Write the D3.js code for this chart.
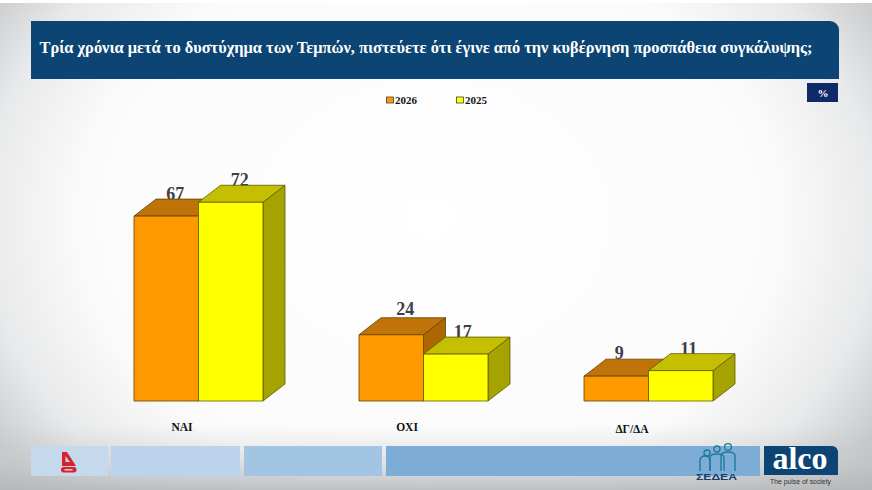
<!DOCTYPE html>
<html><head><meta charset="utf-8">
<script src="https://cdn.jsdelivr.net/npm/d3@7"></script>
<style>html,body{margin:0;padding:0;background:#fff}svg{display:block}text{font-family:"Liberation Serif",serif}</style>
</head><body><svg id="c" width="872" height="490"></svg>
<script>
const categories = ["ΝΑΙ", "ΟΧΙ", "ΔΓ/ΔΑ"];
const seriesNames = ["2026", "2025"];
const values2026 = [67, 24, 9];
const values2025 = [72, 17, 11];
const titleText = "Τρία χρόνια μετά το δυστύχημα των Τεμπών, πιστεύετε ότι έγινε από την κυβέρνηση προσπάθεια συγκάλυψης;";
const unitText = "%";

const svg = d3.select("#c");
const defs = svg.append("defs");
const bg = defs.append("radialGradient").attr("id","bg").attr("gradientUnits","userSpaceOnUse")
  .attr("cx",430).attr("cy",215).attr("r",560).attr("gradientTransform","translate(0,50) scale(1,0.78)");
[[0,"#ffffff"],[0.62,"#fbfbfb"],[0.8,"#e8e9ea"],[1,"#b8babd"]].forEach(s=>bg.append("stop").attr("offset",s[0]).attr("stop-color",s[1]));
svg.append("rect").attr("width",872).attr("height",490).attr("fill","url(#bg)");
const bottom = defs.append("linearGradient").attr("id","bot").attr("x1",0).attr("y1",0).attr("x2",0).attr("y2",1);
[[0,"#c4c6c8",0],[0.55,"#c4c6c8",.45],[1,"#b4b6b8",.85]].forEach(s=>bottom.append("stop").attr("offset",s[0]).attr("stop-color",s[1]).attr("stop-opacity",s[2]));
svg.append("rect").attr("y",425).attr("width",872).attr("height",65).attr("fill","url(#bot)");
svg.append("rect").attr("width",872).attr("height",3).attr("fill","#fff");

// title banner
svg.append("path").attr("d","M31 21H830a9 9 0 0 1 9 9V79H31Z").attr("fill","#0c4473");
svg.append("text").attr("x",39.5).attr("y",53).attr("fill","#fff").attr("font-size",16.5).attr("font-weight",700)
  .attr("textLength",773).attr("lengthAdjust","spacingAndGlyphs").text(titleText);
svg.append("rect").attr("x",807).attr("y",83).attr("width",31).attr("height",19).attr("fill","#0e2a68");
svg.append("text").attr("x",823).attr("y",97).attr("text-anchor","middle").attr("fill","#fff").attr("font-size",11).attr("font-weight",700).text(unitText);

// scales
const y = d3.scaleLinear().domain([0,100]).range([401,125]);
const groupX = d3.scalePoint().domain(categories).range([134,584]);
const x1 = d3.scaleBand().domain(seriesNames).range([0,129]);
const palette = {
  "2026":{front:"#ff9900",top:"#c07308",side:"#ad6700",stroke:"#5f4300"},
  "2025":{front:"#ffff00",top:"#c4bf00",side:"#a5a300",stroke:"#5f5a00"}
};
const dx=22, dy=17;
const labelShiftX = [9,9,14,7,3,8];
const labelShiftY = [1,1,-3,1,0,1];
const rows = categories.flatMap((c,i)=>[
  {c,s:"2026",v:values2026[i]},{c,s:"2025",v:values2025[i]}
]);
// value labels sit behind the bars, whose top faces clip them slightly
rows.forEach((d,i)=>{
  svg.append("text").attr("x",groupX(d.c)+x1(d.s)+x1.bandwidth()/2+labelShiftX[i]).attr("y",y(d.v)-dy+labelShiftY[i])
    .attr("text-anchor","middle").attr("font-size",18).attr("font-weight",700).attr("fill","#3f3f46").text(d.v);
});
const marks = svg.append("g");
rows.forEach(d=>{
  const L=groupX(d.c)+x1(d.s), R=L+x1.bandwidth(), T=y(d.v), B=y(0), p=palette[d.s];
  const g=marks.append("g").attr("stroke",p.stroke).attr("stroke-width",.8).attr("stroke-linejoin","round");
  g.append("path").attr("d",`M${R} ${T}L${R+dx} ${T-dy}V${B-dy}L${R} ${B}Z`).attr("fill",p.side);
  g.append("path").attr("d",`M${L} ${T}L${L+dx} ${T-dy}H${R+dx}L${R} ${T}Z`).attr("fill",p.top);
  g.append("rect").attr("x",L).attr("y",T).attr("width",R-L).attr("height",B-T).attr("fill",p.front);
});
// category labels
categories.forEach((c,i)=>{
  svg.append("text").attr("x",[182,407,632][i]).attr("y",[431,431,433][i]).attr("text-anchor","middle")
    .attr("font-size",11.5).attr("font-weight",700).attr("fill","#111").text(c);
});
// legend
seriesNames.forEach((s,i)=>{
  const lx=[386,456][i];
  svg.append("rect").attr("x",lx+.5).attr("y",97).attr("width",7).attr("height",6).attr("fill",palette[s].front).attr("stroke","#444").attr("stroke-width",.8);
  svg.append("text").attr("x",lx+9).attr("y",104).attr("font-size",11).attr("font-weight",700).attr("fill","#111").text(s);
});
// footer
[[31,77,"#c4d9ec"],[111,129,"#bcd4eb"],[244,138,"#a2c5e3"],[386,374,"#7dadd6"]].forEach(r=>{
  svg.append("rect").attr("x",r[0]).attr("y",446).attr("width",r[1]).attr("height",30).attr("fill",r[2]);
});
// red mark
svg.append("path").attr("fill-rule","evenodd").attr("d","M62 452H67L76 466H62ZM65.5 456V462H70Z").attr("fill","#d8232f");
svg.append("rect").attr("x",61).attr("y",467).attr("width",15.5).attr("height",5.5).attr("rx",2.7).attr("fill","#d8232f");
svg.append("rect").attr("x",64.5).attr("y",469).attr("width",8).attr("height",1.5).attr("fill","#f0c8cc");
// people mark
const ppl=svg.append("g").attr("fill","none").attr("stroke","#1d7a9a").attr("stroke-width",1.4);
[[707,453,3],[717,449,3],[728,447,3.4]].forEach(c=>ppl.append("circle").attr("cx",c[0]).attr("cy",c[1]).attr("r",c[2]));
["M700 471V461q0-5 5-5t5 5V471","M710 471V458q0-4 7-4t7 4V471","M721 471V456q0-4 7-4t7 4V471"].forEach(d=>ppl.append("path").attr("d",d));
svg.append("text").attr("x",696).attr("y",480).attr("fill","#143e6a")
  .style("font-family","'Liberation Sans',sans-serif").attr("font-size",9).attr("font-weight",700)
  .attr("textLength",41).attr("lengthAdjust","spacingAndGlyphs").text("ΣΕΔΕΑ");
// alco
svg.append("path").attr("d","M764 446H832a6 6 0 0 1 6 6V475H764Z").attr("fill","#0c4473");
svg.append("text").attr("x",800).attr("y",469).attr("text-anchor","middle").attr("fill","#fff").attr("font-size",32).attr("font-weight",700).text("alco");
svg.append("text").attr("x",770).attr("y",484).attr("fill","#333")
  .style("font-family","'Liberation Sans',sans-serif").attr("font-size",7).attr("textLength",61).attr("lengthAdjust","spacingAndGlyphs").text("The pulse of society");
</script></body></html>
